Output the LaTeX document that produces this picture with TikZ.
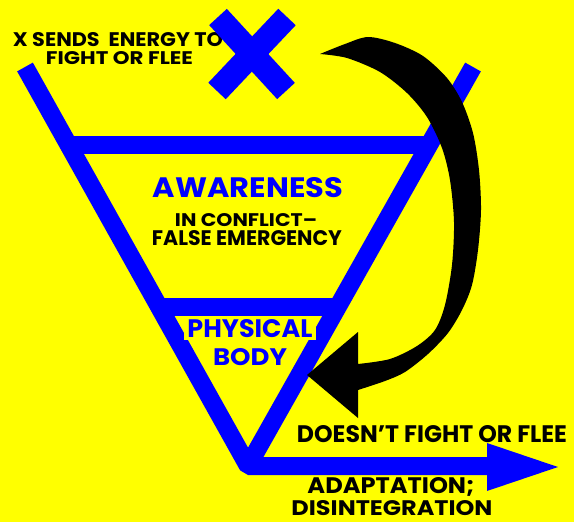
\documentclass[tikz,border=0pt]{standalone}
\usepackage{fontspec}
\setmainfont{Poppins}
\usepackage{graphicx}
\definecolor{bg}{HTML}{FFFF00}
\definecolor{vb}{HTML}{0000FF}
\newcommand\fitt[3]{\resizebox{#1pt}{#2pt}{\bfseries #3}}
\begin{document}
\begin{tikzpicture}[x=1pt,y=-1pt,
  bar/.style={draw=vb,line width=18pt},
  lbl/.style={inner sep=0pt,anchor=base}]
\useasboundingbox (0,0) rectangle (574,522);
\fill[bg] (0,0) rectangle (574,522);
% V and bars
\coordinate (lt) at (25,67);
\coordinate (rt) at (473,67);
\coordinate (vx) at (248,466);
\coordinate (ae) at (488,466);
\draw[bar,line join=bevel] (lt) -- (vx) -- (ae);
\draw[bar] (rt) -- (vx);
\coordinate (b1l) at (70,145); \coordinate (b1r) at (430,145);
\coordinate (b2l) at (160,307); \coordinate (b2r) at (337,307);
\draw[bar] (b1l) -- (b1r);
\draw[bar] (b2l) -- (b2r);
\fill[vb] (487,443) -- (558,467) -- (487,491) -- cycle;
% texts
\node[lbl,fill=bg,inner ysep=3pt,inner xsep=3pt] (phys) at (250,337) {\color{vb}\fitt{125}{18}{PHYSICAL}};
\node[lbl] (body) at (250,365) {\color{vb}\fitt{74}{17}{BODY}};
\node[lbl] (aw) at (248,197) {\color{vb}\fitt{190}{20}{AWARENESS}};
\node[lbl] (inc) at (246,226) {\fitt{142}{13}{IN CONFLICT–}};
\node[lbl] (fe) at (247,245) {\fitt{190}{15}{FALSE EMERGENCY}};
\node[lbl] (xs) at (118,46) {\fitt{210}{14}{X SENDS\ \ ENERGY TO}};
\node[lbl] (ff) at (119.5,64) {\fitt{147}{13}{FIGHT OR FLEE}};
\node[lbl] (dn) at (432,442) {\fitt{270}{17}{DOESN’T FIGHT OR FLEE}};
\node[lbl] (ad) at (391,493) {\fitt{167}{16}{ADAPTATION;}};
\node[lbl] (dis) at (392,515) {\fitt{201}{15}{DISINTEGRATION}};
% big X
\draw[vb,line width=24pt] (218,17) -- (286,91);
\draw[vb,line width=24pt] (287,17) -- (217,91);
% black curved arrow
\fill[black] plot[smooth] coordinates {(320,54) (345,44) (368,37) (395,43) (423,56) (447,78) (462,102) (473,133) (479,170) (481,210) (478,250) (472,285) (462,310) (448,333) (428,354) (405,372) (385,381) (358,390)}
  -- (358,418) -- (307,375) -- (358,332) -- (358,364)
  -- plot[smooth] coordinates {(358,364) (390,359) (417,346) (435,330) (445,305) (452,265) (454,222) (450,180) (442,148) (427,117) (407,93) (380,72) (347,58) (320,54)} -- cycle;
\end{tikzpicture}
\end{document}
